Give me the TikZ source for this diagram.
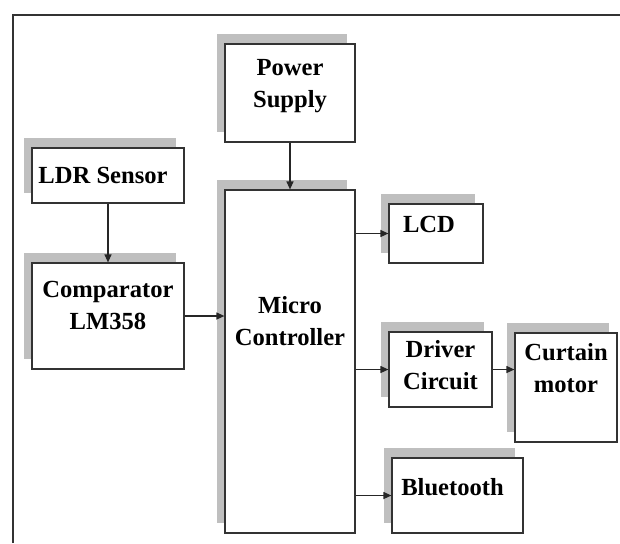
\documentclass[tikz,border=0pt]{standalone}
\usepackage{fontspec}
\setmainfont{Liberation Serif}
\usetikzlibrary{arrows.meta, positioning, shadows}

\begin{document}
\begin{tikzpicture}[
    x=0.5pt, y=-0.5pt,
    box/.style={draw=black!80, line width=0.6pt, fill=white, inner sep=0pt,
        general shadow={fill=black!25, shadow xshift=-4pt, shadow yshift=5pt}},
    txt/.style={font=\fontsize{12.3pt}{16pt}\selectfont\bfseries, align=center, inner sep=0pt},
    flow/.style={-{Triangle[length=4pt, width=3.5pt]}, line width=0.6pt, draw=black!85}
]
\useasboundingbox (0,0) rectangle (620,543);
\draw[line width=0.8pt, black!80] (13,543) -- (13,15) -- (620,15);

% blocks
\node[box, minimum width=65pt, minimum height=49pt] (psu) at (290,93) {};
\node[box, minimum width=76pt, minimum height=27.5pt] (ldr) at (108,175.5) {};
\node[box, minimum width=76pt, minimum height=53pt] (comp) at (108,316) {};
\node[box, minimum width=65pt, minimum height=171.5pt] (mc) at (290,361.5) {};
\node[box, minimum width=47pt, minimum height=29.5pt] (lcd) at (436,233.5) {};
\node[box, minimum width=51.5pt, minimum height=37.5pt] (drv) at (440.5,369.5) {};
\node[box, minimum width=51pt, minimum height=54.5pt] (mot) at (566,387.5) {};
\node[box, minimum width=65.5pt, minimum height=37.5pt] (bt) at (457.5,495.5) {};

% texts
\node[txt] (psu-t) at ([yshift=-21.25pt]psu.north) {Power\\Supply};
\node[txt] (ldr-t) at ([xshift=-2.5pt]ldr.center) {LDR Sensor};
\node[txt] (comp-t) at ([yshift=-21.5pt]comp.north) {Comparator\\LM358};
\node[txt] (mc-t) at ([yshift=-66pt]mc.north) {Micro\\Controller};
\node[txt] (lcd-t) at ([xshift=-3.5pt, yshift=-10.5pt]lcd.north) {LCD};
\node[txt] (drv-t) at ([yshift=-17pt]drv.north) {Driver\\Circuit};
\node[txt] (mot-t) at ([yshift=-17.75pt]mot.north) {Curtain\\motor};
\node[txt] (bt-t) at ([xshift=-2.5pt, yshift=-15pt]bt.north) {Bluetooth};

% links
\draw[flow] (psu) -- (mc);
\draw[flow] (ldr) -- (comp);
\draw[flow] (comp.east) -- (comp.east -| mc.west);
\draw[flow] (lcd.west -| mc.east) -- (lcd.west);
\draw[flow] (drv.west -| mc.east) -- (drv.west);
\draw[flow] (drv.east) -- (drv.east -| mot.west);
\draw[flow] (bt.west -| mc.east) -- (bt.west);
\end{tikzpicture}
\end{document}
